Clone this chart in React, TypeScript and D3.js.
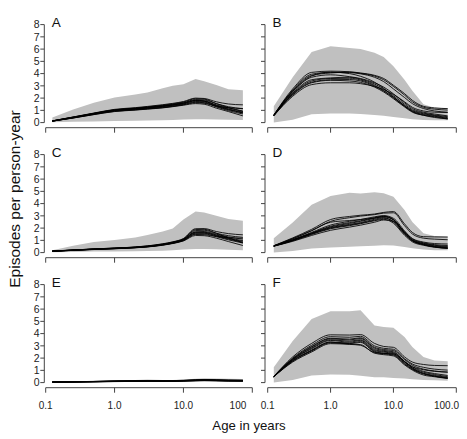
import React from 'react';
import * as d3 from 'd3';

// ---------- data ----------
const ages = [0.125, 0.25, 0.5, 1, 2, 3, 5, 7, 10, 15, 20, 30, 45, 73];
const xTicks = [0.1, 1, 10, 100];
const xTickLabelsLeft = ['0.1', '1.0', '10.0', '100'];
const xTickLabelsRight = ['0.1', '1.0', '10.0', '100.0'];
const yTicks = [0, 1, 2, 3, 4, 5, 6, 7, 8];
const panelLabels = ['A', 'B', 'C', 'D', 'E', 'F'];

const upperA = [0.42, 1.07, 1.62, 2.05, 2.3, 2.46, 2.8, 3.0, 3.14, 3.55, 3.38, 3.06, 2.72, 2.65];
const lowerA = [0.03, 0.06, 0.1, 0.13, 0.16, 0.18, 0.2, 0.22, 0.25, 0.28, 0.28, 0.26, 0.24, 0.22];
const linesA = [
  [0.12, 0.40, 0.70, 0.97, 1.10, 1.18, 1.30, 1.40, 1.52, 1.72, 1.68, 1.32, 1.05, 0.80],
  [0.13, 0.43, 0.74, 1.02, 1.15, 1.24, 1.36, 1.46, 1.60, 1.82, 1.78, 1.45, 1.20, 0.95],
  [0.12, 0.38, 0.66, 0.92, 1.04, 1.12, 1.22, 1.32, 1.45, 1.62, 1.58, 1.35, 1.22, 1.15],
  [0.14, 0.45, 0.76, 1.05, 1.18, 1.28, 1.42, 1.53, 1.68, 1.95, 1.92, 1.55, 1.22, 0.90],
  [0.13, 0.41, 0.71, 0.99, 1.12, 1.20, 1.33, 1.43, 1.56, 1.78, 1.74, 1.40, 1.12, 0.85],
  [0.12, 0.39, 0.69, 0.95, 1.06, 1.14, 1.25, 1.35, 1.48, 1.66, 1.62, 1.28, 0.98, 0.70],
  [0.14, 0.44, 0.75, 1.04, 1.17, 1.26, 1.38, 1.49, 1.63, 1.88, 1.85, 1.55, 1.30, 1.12],
  [0.13, 0.42, 0.72, 1.00, 1.13, 1.21, 1.34, 1.44, 1.58, 1.80, 1.75, 1.38, 1.08, 0.78],
  [0.12, 0.37, 0.65, 0.90, 1.02, 1.10, 1.20, 1.30, 1.42, 1.55, 1.50, 1.18, 0.90, 0.55],
  [0.14, 0.46, 0.78, 1.08, 1.22, 1.32, 1.46, 1.57, 1.72, 2.00, 1.97, 1.70, 1.52, 1.45],
];

const upperB = [1.33, 3.7, 5.77, 6.23, 6.1, 6.0, 5.7, 5.36, 4.6, 3.5, 2.6, 1.5, 1.22, 1.2];
const lowerB = [0.0, 0.24, 0.68, 0.75, 0.75, 0.7, 0.62, 0.55, 0.45, 0.35, 0.28, 0.22, 0.2, 0.2];
const linesB = [
  [0.62, 2.75, 4.10, 4.20, 4.15, 4.05, 3.86, 3.60, 3.05, 2.37, 1.82, 1.33, 1.20, 1.14],
  [0.60, 2.65, 3.95, 4.10, 4.08, 3.98, 3.70, 3.35, 2.75, 2.05, 1.55, 1.15, 0.95, 0.85],
  [0.58, 2.55, 3.80, 4.12, 4.00, 3.78, 3.30, 2.80, 2.10, 1.35, 0.90, 0.60, 0.42, 0.30],
  [0.57, 2.40, 3.50, 3.65, 3.70, 3.55, 3.15, 2.75, 2.20, 1.50, 1.05, 0.78, 0.62, 0.48],
  [0.58, 2.35, 3.40, 3.60, 3.62, 3.48, 3.05, 2.62, 2.08, 1.40, 0.98, 0.72, 0.58, 0.40],
  [0.56, 2.30, 3.30, 3.50, 3.52, 3.40, 2.98, 2.58, 2.02, 1.35, 0.92, 0.66, 0.52, 0.35],
  [0.59, 2.50, 3.70, 3.90, 3.75, 3.60, 3.25, 2.90, 2.35, 1.62, 1.15, 0.85, 0.70, 0.55],
  [0.55, 2.15, 3.10, 3.25, 3.25, 3.18, 2.95, 2.70, 2.30, 1.70, 1.25, 0.95, 0.85, 0.82],
  [0.57, 2.25, 3.25, 3.45, 3.40, 3.28, 2.90, 2.50, 1.95, 1.28, 0.85, 0.60, 0.48, 0.30],
  [0.61, 2.60, 3.85, 4.05, 4.12, 4.02, 3.80, 3.50, 2.95, 2.25, 1.70, 1.25, 1.10, 1.02],
];

const upperC = [0.2, 0.56, 0.86, 1.02, 1.24, 1.43, 1.73, 1.97, 2.7, 3.36, 3.28, 3.0, 2.75, 2.6];
const lowerC = [0.02, 0.05, 0.08, 0.1, 0.12, 0.14, 0.16, 0.2, 0.25, 0.3, 0.3, 0.28, 0.24, 0.2];
const linesC = [
  [0.11, 0.19, 0.27, 0.33, 0.41, 0.49, 0.64, 0.78, 1.02, 1.58, 1.58, 1.36, 1.10, 0.85],
  [0.12, 0.20, 0.28, 0.35, 0.43, 0.51, 0.67, 0.82, 1.08, 1.70, 1.72, 1.50, 1.28, 1.10],
  [0.11, 0.18, 0.26, 0.32, 0.40, 0.47, 0.62, 0.76, 0.98, 1.48, 1.46, 1.32, 1.22, 1.18],
  [0.13, 0.21, 0.30, 0.37, 0.45, 0.54, 0.70, 0.86, 1.12, 1.88, 1.90, 1.58, 1.20, 0.80],
  [0.12, 0.20, 0.28, 0.34, 0.42, 0.50, 0.66, 0.80, 1.05, 1.62, 1.62, 1.40, 1.15, 0.92],
  [0.11, 0.19, 0.27, 0.33, 0.41, 0.48, 0.63, 0.77, 1.00, 1.52, 1.52, 1.30, 1.04, 0.78],
  [0.12, 0.21, 0.29, 0.36, 0.44, 0.52, 0.68, 0.84, 1.10, 1.80, 1.82, 1.58, 1.38, 1.25],
  [0.12, 0.20, 0.28, 0.35, 0.43, 0.50, 0.66, 0.81, 1.06, 1.66, 1.66, 1.44, 1.20, 0.98],
  [0.11, 0.18, 0.25, 0.31, 0.39, 0.46, 0.60, 0.74, 0.95, 1.40, 1.38, 1.18, 0.90, 0.58],
  [0.13, 0.21, 0.30, 0.37, 0.46, 0.55, 0.72, 0.88, 1.15, 1.95, 1.96, 1.72, 1.55, 1.45],
];

const upperD = [1.17, 2.45, 3.9, 4.63, 4.88, 4.82, 4.92, 4.85, 4.55, 3.48, 2.5, 1.58, 1.36, 1.3];
const lowerD = [0.0, 0.14, 0.33, 0.41, 0.48, 0.52, 0.56, 0.6, 0.57, 0.45, 0.35, 0.25, 0.19, 0.19];
const linesD = [
  [0.56, 1.20, 1.90, 2.70, 2.95, 3.05, 3.15, 3.28, 3.35, 2.35, 1.65, 1.30, 1.28, 1.27],
  [0.55, 1.15, 1.80, 2.55, 2.85, 2.98, 3.10, 3.22, 3.25, 2.20, 1.52, 1.18, 1.10, 1.05],
  [0.55, 1.12, 1.78, 2.48, 2.62, 2.70, 2.82, 2.92, 2.70, 1.62, 1.00, 0.66, 0.46, 0.36],
  [0.54, 1.02, 1.58, 2.10, 2.38, 2.55, 2.80, 2.95, 2.65, 1.62, 1.02, 0.72, 0.55, 0.45],
  [0.54, 1.00, 1.55, 2.04, 2.30, 2.45, 2.72, 2.86, 2.50, 1.50, 0.95, 0.68, 0.50, 0.40],
  [0.53, 0.96, 1.48, 1.95, 2.20, 2.36, 2.60, 2.72, 2.40, 1.42, 0.88, 0.60, 0.44, 0.34],
  [0.52, 0.92, 1.40, 1.82, 2.08, 2.24, 2.48, 2.66, 2.55, 1.70, 1.15, 0.86, 0.74, 0.70],
  [0.55, 1.06, 1.65, 2.25, 2.55, 2.70, 2.92, 3.02, 2.80, 1.78, 1.12, 0.80, 0.65, 0.58],
  [0.53, 0.98, 1.52, 2.00, 2.25, 2.40, 2.65, 2.80, 2.55, 1.55, 0.98, 0.64, 0.47, 0.36],
  [0.54, 1.04, 1.60, 2.15, 2.45, 2.60, 2.85, 2.98, 2.70, 1.68, 1.06, 0.76, 0.60, 0.50],
];

const upperE = [0.06, 0.10, 0.14, 0.17, 0.21, 0.25, 0.22, 0.22, 0.26, 0.32, 0.36, 0.34, 0.31, 0.3];
const lowerE = [0.0, 0.02, 0.03, 0.04, 0.05, 0.06, 0.06, 0.06, 0.07, 0.08, 0.08, 0.08, 0.07, 0.07];
const linesE = [
  [0.04, 0.06, 0.08, 0.10, 0.12, 0.14, 0.13, 0.13, 0.15, 0.18, 0.20, 0.18, 0.16, 0.15],
  [0.05, 0.07, 0.09, 0.12, 0.14, 0.16, 0.15, 0.15, 0.17, 0.21, 0.23, 0.21, 0.19, 0.18],
  [0.04, 0.05, 0.07, 0.09, 0.11, 0.12, 0.12, 0.12, 0.13, 0.16, 0.18, 0.16, 0.14, 0.13],
  [0.05, 0.07, 0.10, 0.13, 0.15, 0.17, 0.16, 0.16, 0.19, 0.23, 0.25, 0.23, 0.21, 0.20],
  [0.04, 0.06, 0.08, 0.11, 0.13, 0.15, 0.14, 0.14, 0.16, 0.19, 0.21, 0.19, 0.17, 0.16],
  [0.03, 0.05, 0.06, 0.08, 0.10, 0.11, 0.11, 0.11, 0.12, 0.14, 0.16, 0.14, 0.12, 0.11],
  [0.05, 0.06, 0.09, 0.11, 0.13, 0.15, 0.15, 0.15, 0.17, 0.20, 0.22, 0.20, 0.18, 0.17],
  [0.04, 0.06, 0.08, 0.10, 0.12, 0.13, 0.13, 0.12, 0.14, 0.17, 0.19, 0.17, 0.15, 0.14],
  [0.05, 0.07, 0.09, 0.12, 0.14, 0.15, 0.14, 0.14, 0.16, 0.20, 0.22, 0.20, 0.18, 0.17],
  [0.04, 0.06, 0.07, 0.10, 0.12, 0.13, 0.12, 0.13, 0.15, 0.17, 0.19, 0.17, 0.15, 0.15],
];

const upperF = [1.26, 3.4, 5.2, 5.82, 5.82, 5.9, 4.67, 4.54, 4.48, 3.72, 2.9, 2.08, 1.8, 1.75];
const lowerF = [0.0, 0.22, 0.57, 0.66, 0.64, 0.55, 0.44, 0.44, 0.38, 0.33, 0.27, 0.22, 0.2, 0.16];
const linesF = [
  [0.50, 2.10, 3.20, 3.90, 3.88, 3.92, 3.20, 2.95, 2.88, 2.10, 1.68, 1.48, 1.40, 1.38],
  [0.50, 2.00, 3.05, 3.75, 3.70, 3.78, 3.00, 2.80, 2.72, 1.95, 1.52, 1.25, 1.10, 1.02],
  [0.49, 1.92, 2.90, 3.58, 3.48, 3.60, 2.80, 2.62, 2.52, 1.72, 1.18, 0.75, 0.52, 0.36],
  [0.49, 1.86, 2.76, 3.44, 3.30, 3.44, 2.62, 2.49, 2.38, 1.67, 1.20, 0.85, 0.66, 0.49],
  [0.48, 1.80, 2.66, 3.32, 3.22, 3.35, 2.55, 2.40, 2.30, 1.58, 1.12, 0.76, 0.58, 0.42],
  [0.48, 1.74, 2.58, 3.25, 3.15, 3.10, 2.40, 2.28, 2.18, 1.45, 1.02, 0.62, 0.48, 0.33],
  [0.49, 1.88, 2.82, 3.50, 3.38, 3.50, 2.70, 2.55, 2.45, 1.74, 1.28, 0.92, 0.74, 0.58],
  [0.48, 1.68, 2.50, 3.18, 3.12, 3.05, 2.45, 2.38, 2.35, 1.70, 1.30, 1.05, 0.92, 0.86],
  [0.49, 1.95, 2.95, 3.62, 3.55, 3.66, 2.88, 2.70, 2.62, 1.88, 1.42, 1.10, 0.95, 0.85],
  [0.48, 1.78, 2.62, 3.30, 3.18, 3.28, 2.50, 2.35, 2.25, 1.52, 1.08, 0.70, 0.52, 0.38],
];

// ---------- layout ----------
const W = 467;
const H = 439;
const FONT = "'Liberation Sans', Arial, Helvetica, sans-serif";
const colRange: [number, number][] = [[45.7, 252.3], [267.7, 456.3]];
const yAxisX = [44.3, 265];
const rowZero = [122.6, 252.6, 382.6];
const unitPx = 12.25;
const xAxisGap = 5.1;
const AXIS = '#444';
const BAND = '#c0c0c0';

const panels = [
  { upper: upperA, lower: lowerA, lines: linesA },
  { upper: upperB, lower: lowerB, lines: linesB },
  { upper: upperC, lower: lowerC, lines: linesC },
  { upper: upperD, lower: lowerD, lines: linesD },
  { upper: upperE, lower: lowerE, lines: linesE },
  { upper: upperF, lower: lowerF, lines: linesF },
].map((p, i) => ({ ...p, label: panelLabels[i], col: i % 2, row: Math.floor(i / 2) }));

function Panel({ p }: { p: any }) {
  const x = d3.scaleLog().domain([0.1, 100]).range(colRange[p.col]);
  const zero = rowZero[p.row];
  const y = d3.scaleLinear().domain([0, 8]).range([zero, zero - 8 * unitPx]);
  const area = d3
    .area<number>()
    .x((_, i) => x(ages[i]))
    .y0((_, i) => y(p.lower[i]))
    .y1((_, i) => y(p.upper[i]))
    .curve(d3.curveLinear);
  const line = d3
    .line<number>()
    .x((_, i) => x(ages[i]))
    .y((d) => y(d))
    .curve(d3.curveMonotoneX);
  const axY = zero + xAxisGap;
  const ax = yAxisX[p.col];
  const isBottom = p.row === 2;
  const labels = p.col === 0 ? xTickLabelsLeft : xTickLabelsRight;
  return (
    <g>
      <path d={area(p.upper) || ''} fill={BAND} stroke="none" />
      {p.lines.map((l: number[], i: number) => (
        <path key={i} d={line(l) || ''} fill="none" stroke="#000" strokeWidth={0.85} />
      ))}
      {/* y axis */}
      <line x1={ax} x2={ax} y1={y(0)} y2={y(8)} stroke={AXIS} strokeWidth={1} />
      {yTicks.map((t) => (
        <g key={t}>
          <line x1={ax - 4} x2={ax} y1={y(t)} y2={y(t)} stroke={AXIS} strokeWidth={1} />
          {p.col === 0 && (
            <text x={ax - 4.8} y={y(t)} dy="0.36em" textAnchor="end" fontSize={10.5} fill="#222" fontFamily={FONT}>
              {t}
            </text>
          )}
        </g>
      ))}
      {/* x axis */}
      <line x1={x(0.1)} x2={x(100)} y1={axY} y2={axY} stroke={AXIS} strokeWidth={1} />
      {xTicks.map((t, i) => (
        <g key={t}>
          <line x1={x(t)} x2={x(t)} y1={axY} y2={axY + 5} stroke={AXIS} strokeWidth={1} />
          {isBottom && (
            <text
              x={i === xTicks.length - 1 ? x(t) + (p.col === 0 ? -6 : 2.7) : x(t)}
              y={axY + 21.5}
              textAnchor={i === xTicks.length - 1 ? 'end' : 'middle'}
              fontSize={10}
              fill="#222"
              fontFamily={FONT}
            >
              {labels[i]}
            </text>
          )}
        </g>
      ))}
      <text x={ax + 7.5} y={y(8) + 2.7} fontSize={13.5} fill="#111" fontFamily={FONT}>
        {p.label}
      </text>
    </g>
  );
}

export default function App() {
  return (
    <svg
      width={W}
      height={H}
      viewBox={`0 0 ${W} ${H}`}
      style={{ position: 'absolute', left: 0, top: 0, background: '#fff' }}
    >
      <rect x={0} y={0} width={W} height={H} fill="#fff" />
      {panels.map((p, i) => (
        <Panel key={i} p={p} />
      ))}
      <text
        transform="translate(19.5,199) rotate(-90)"
        textAnchor="middle"
        fontSize={15.5}
        fill="#111"
        fontFamily={FONT}
      >
        Episodes per person-year
      </text>
      <text x={249} y={429.5} textAnchor="middle" fontSize={13.2} fill="#111" fontFamily={FONT}>
        Age in years
      </text>
    </svg>
  );
}
